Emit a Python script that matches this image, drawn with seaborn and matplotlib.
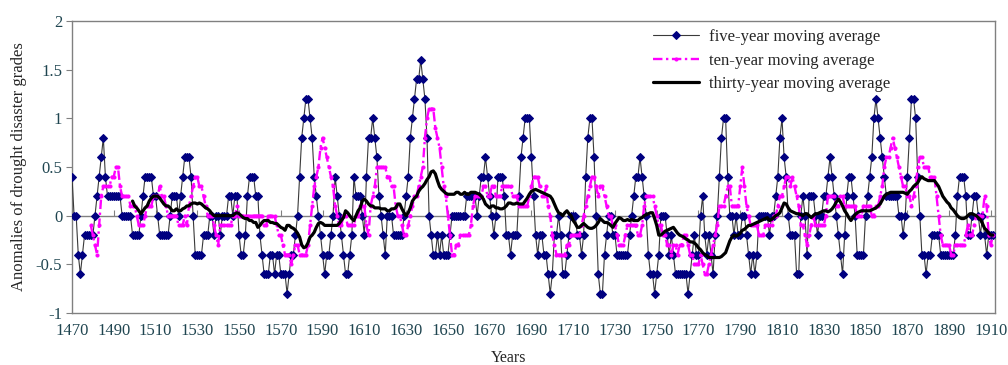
import numpy as np
import pandas as pd
import matplotlib
matplotlib.use('Agg')
import matplotlib.pyplot as plt
import seaborn as sns

# five-year moving average, one value per year from 1470
five_start = 1470
five_year = [
    0.4, 0.0, 0.0, -0.4, -0.6, -0.4, -0.2, -0.2, -0.2, -0.2,   # 1470
    -0.2, 0.0, 0.2, 0.4, 0.6, 0.8, 0.4, 0.2, 0.2, 0.2,         # 1480
    0.2, 0.2, 0.2, 0.2, 0.0, 0.0, 0.0, 0.0, 0.0, -0.2,         # 1490
    -0.2, -0.2, -0.2, 0.0, 0.2, 0.4, 0.4, 0.4, 0.4, 0.2,       # 1500
    0.2, 0.0, -0.2, -0.2, -0.2, -0.2, -0.2, 0.0, 0.2, 0.2,     # 1510
    0.2, 0.0, 0.2, 0.4, 0.6, 0.6, 0.6, 0.4, 0.0, -0.4,         # 1520
    -0.4, -0.4, -0.4, -0.2, -0.2, -0.2, 0.0, 0.0, -0.2, 0.0,   # 1530
    0.0, -0.2, 0.0, 0.0, 0.0, 0.2, 0.2, 0.0, 0.2, 0.2,         # 1540
    -0.2, -0.4, -0.4, -0.2, 0.2, 0.4, 0.4, 0.4, 0.2, 0.2,      # 1550
    -0.2, -0.4, -0.6, -0.6, -0.6, -0.4, -0.4, -0.6, -0.4, -0.4,  # 1560
    -0.6, -0.6, -0.6, -0.8, -0.6, -0.4, -0.4, -0.2, 0.0, 0.4,  # 1570
    0.8, 1.0, 1.2, 1.2, 1.0, 0.8, 0.4, 0.2, 0.0, -0.2,         # 1580
    -0.4, -0.6, -0.4, -0.4, -0.2, 0.0, 0.4, 0.2, 0.0, -0.2,    # 1590
    -0.4, -0.6, -0.6, -0.4, -0.2, 0.4, 0.2, 0.2, 0.2, 0.0,     # 1600
    -0.2, 0.4, 0.8, 0.8, 1.0, 0.8, 0.6, 0.2, 0.0, -0.2,        # 1610
    -0.4, 0.0, 0.0, 0.0, -0.2, -0.2, -0.2, -0.2, -0.2, 0.0,    # 1620
    0.2, 0.4, 0.8, 1.0, 1.2, 1.4, 1.4, 1.6, 1.4, 1.2,          # 1630
    0.8, 0.0, -0.2, -0.4, -0.4, -0.2, -0.4, -0.2, -0.4, -0.4,  # 1640
    -0.4, -0.2, 0.0, 0.0, 0.0, 0.0, 0.0, 0.0, 0.0, 0.2,        # 1650
    0.2, 0.2, 0.2, 0.2, 0.0, 0.2, 0.4, 0.4, 0.6, 0.4,          # 1660
    0.2, 0.0, -0.2, 0.0, 0.4, 0.4, 0.4, 0.2, -0.2, -0.2,       # 1670
    -0.4, -0.2, -0.2, -0.2, 0.2, 0.6, 0.8, 1.0, 1.0, 1.0,      # 1680
    0.6, 0.2, -0.2, -0.4, -0.2, -0.2, -0.4, -0.4, -0.6, -0.8,  # 1690
    -0.6, -0.2, -0.2, 0.0, -0.2, -0.6, -0.6, -0.4, -0.2, 0.0,  # 1700
    0.0, 0.0, -0.2, -0.2, -0.4, -0.2, 0.4, 0.8, 1.0, 1.0,      # 1710
    0.6, 0.0, -0.6, -0.8, -0.8, -0.4, -0.2, 0.0, 0.0, -0.2,    # 1720
    -0.2, -0.4, -0.4, -0.4, -0.4, -0.4, -0.4, -0.2, 0.0, 0.2,  # 1730
    0.4, 0.4, 0.6, 0.4, 0.2, 0.0, -0.4, -0.6, -0.6, -0.8,      # 1740
    -0.6, -0.4, 0.0, 0.0, 0.0, -0.2, -0.4, -0.2, -0.4, -0.6,   # 1750
    -0.6, -0.6, -0.6, -0.6, -0.6, -0.8, -0.6, -0.4, -0.2, -0.4,  # 1760
    -0.4, 0.0, 0.2, -0.2, -0.4, -0.2, -0.4, -0.6, -0.2, 0.0,   # 1770
    0.4, 0.8, 1.0, 1.0, 0.4, 0.0, 0.0, -0.2, 0.0, -0.2,        # 1780
    -0.2, 0.0, 0.0, -0.2, -0.4, -0.6, -0.4, -0.6, -0.4, 0.0,   # 1790
    0.0, 0.0, 0.0, 0.0, -0.2, 0.0, 0.0, 0.2, 0.4, 0.8,         # 1800
    1.0, 0.6, 0.4, 0.0, -0.2, -0.2, -0.2, -0.6, -0.6, 0.0,     # 1810
    0.2, 0.0, -0.4, 0.2, 0.2, 0.2, 0.0, -0.2, 0.0, 0.0,        # 1820
    0.2, 0.2, 0.4, 0.6, 0.4, 0.2, 0.0, -0.2, -0.4, -0.6,       # 1830
    -0.2, 0.2, 0.4, 0.4, 0.2, 0.0, -0.4, -0.4, -0.4, -0.4,     # 1840
    0.0, 0.2, 0.4, 0.6, 1.0, 1.2, 1.0, 0.8, 0.6, 0.4,          # 1850
    0.2, 0.2, 0.2, 0.2, 0.2, 0.2, 0.0, 0.0, -0.2, 0.0,         # 1860
    0.4, 0.8, 1.2, 1.2, 1.0, 0.4, 0.0, -0.4, -0.4, -0.6,       # 1870
    -0.4, -0.4, -0.2, -0.2, -0.2, -0.2, -0.4, -0.4, -0.4, -0.4,  # 1880
    -0.4, -0.4, -0.4, -0.2, 0.2, 0.4, 0.4, 0.4, 0.2, -0.2,     # 1890
    -0.2, 0.0, 0.2, 0.2, 0.0, -0.2, 0.0, -0.2, -0.4, -0.2,     # 1900
    -0.2, -0.2,                                                # 1910
]

# ten-year moving average, from 1479
ten_start = 1479
ten_year = [
    -0.1,                                                      # 1479
    -0.2, -0.3, -0.4, -0.1, 0.2, 0.3, 0.3, 0.3, 0.3, 0.4,      # 1480
    0.4, 0.5, 0.5, 0.3, 0.2, 0.2, 0.2, 0.2, 0.1, 0.1,          # 1490
    0.1, 0.0, -0.1, -0.1, -0.1, 0.0, 0.1, 0.1, 0.1, 0.2,       # 1500
    0.2, 0.2, 0.3, 0.2, 0.2, 0.1, 0.0, 0.0, 0.0, 0.0,          # 1510
    0.0, -0.1, -0.1, -0.1, 0.0, -0.1, 0.1, 0.2, 0.3, 0.4,      # 1520
    0.4, 0.3, 0.3, 0.2, 0.1, 0.0, 0.0, 0.0, -0.1, -0.2,        # 1530
    -0.3, -0.1, -0.1, -0.1, -0.1, -0.1, -0.1, 0.0, 0.0, 0.1,   # 1540
    0.0, 0.0, 0.0, 0.0, 0.0, 0.0, 0.0, 0.0, 0.0, 0.0,          # 1550
    0.0, 0.0, -0.1, -0.1, 0.0, 0.0, 0.0, 0.0, -0.1, -0.2,      # 1560
    -0.2, -0.3, -0.4, -0.4, -0.4, -0.5, -0.4, -0.3, -0.3, -0.4,  # 1570
    -0.4, -0.4, -0.4, -0.3, -0.1, 0.1, 0.3, 0.4, 0.5, 0.7,     # 1580
    0.8, 0.7, 0.6, 0.5, 0.4, 0.3, 0.1, 0.0, -0.1, -0.1,        # 1590
    0.0, 0.0, -0.1, -0.1, -0.1, -0.1, 0.0, 0.0, 0.1, 0.1,      # 1600
    0.1, -0.1, -0.2, 0.1, 0.2, 0.3, 0.5, 0.5, 0.5, 0.5,        # 1610
    0.5, 0.4, 0.4, 0.3, 0.3, 0.1, 0.0, 0.0, -0.1, -0.2,        # 1620
    -0.2, -0.1, 0.0, 0.1, 0.2, 0.2, 0.3, 0.4, 0.5, 0.8,        # 1630
    1.0, 1.1, 1.1, 1.1, 0.9, 0.8, 0.7, 0.5, 0.3, 0.2,          # 1640
    0.0, -0.2, -0.4, -0.4, -0.3, -0.3, -0.2, -0.2, -0.2, -0.2,  # 1650
    -0.2, -0.1, 0.1, 0.2, 0.2, 0.2, 0.2, 0.3, 0.3, 0.2,        # 1660
    0.2, 0.3, 0.3, 0.2, 0.2, 0.2, 0.3, 0.3, 0.3, 0.3,          # 1670
    0.3, 0.2, 0.2, 0.2, 0.1, 0.1, 0.1, 0.1, 0.1, 0.2,          # 1680
    0.3, 0.4, 0.4, 0.4, 0.3, 0.2, 0.2, 0.3, 0.1, 0.0,          # 1690
    -0.2, -0.3, -0.4, -0.4, -0.4, -0.4, -0.4, -0.3, -0.3, -0.2,  # 1700
    -0.2, -0.2, -0.2, -0.2, -0.1, 0.0, 0.1, 0.2, 0.3, 0.4,     # 1710
    0.4, 0.3, 0.2, 0.3, 0.3, 0.2, 0.1, 0.0, 0.0, -0.1,         # 1720
    -0.1, -0.2, -0.3, -0.3, -0.3, -0.2, -0.1, -0.1, -0.1, -0.1,  # 1730
    -0.1, -0.2, -0.2, -0.1, 0.1, 0.2, 0.2, 0.2, 0.2, 0.1,      # 1740
    0.0, -0.1, -0.1, -0.2, -0.2, -0.3, -0.3, -0.4, -0.3, -0.3,  # 1750
    -0.4, -0.3, -0.3, -0.2, -0.2, -0.3, -0.4, -0.4, -0.5, -0.5,  # 1760
    -0.5, -0.4, -0.5, -0.6, -0.6, -0.5, -0.4, -0.3, -0.2, -0.1,  # 1770
    0.1, 0.1, 0.1, 0.2, 0.3, 0.3, 0.1, 0.1, 0.1, 0.1,          # 1780
    0.3, 0.5, 0.3, 0.1, 0.0, -0.1, -0.1, -0.1, -0.1, -0.2,     # 1790
    -0.2, -0.2, -0.1, -0.1, -0.1, -0.1, 0.0, 0.0, 0.1, 0.2,    # 1800
    0.2, 0.3, 0.4, 0.4, 0.3, 0.4, 0.3, 0.2, 0.1, -0.1,         # 1810
    -0.1, -0.2, -0.3, -0.2, -0.1, 0.0, -0.1, -0.1, -0.1, -0.1,  # 1820
    -0.1, 0.0, 0.2, 0.2, 0.2, 0.2, 0.1, 0.1, 0.2, 0.2,         # 1830
    0.1, 0.1, 0.1, 0.1, 0.1, 0.1, 0.0, 0.0, 0.0, 0.1,          # 1840
    0.1, 0.1, 0.1, 0.0, 0.0, 0.1, 0.1, 0.2, 0.3, 0.5,          # 1850
    0.6, 0.6, 0.7, 0.8, 0.7, 0.6, 0.5, 0.4, 0.3, 0.3,          # 1860
    0.2, 0.2, 0.1, 0.2, 0.3, 0.5, 0.6, 0.6, 0.5, 0.5,          # 1870
    0.5, 0.4, 0.4, 0.4, 0.2, 0.0, -0.2, -0.3, -0.3, -0.3,      # 1880
    -0.3, -0.4, -0.4, -0.3, -0.3, -0.3, -0.3, -0.3, -0.2, -0.1,  # 1890
    -0.2, -0.2, -0.1, 0.0, 0.0, 0.0, 0.0, 0.2, 0.1, -0.2,      # 1900
    -0.3, -0.2,                                                # 1910
]

# thirty-year moving average, from 1499
thirty_start = 1499
thirty_year = [
    0.15,                                                                  # 1499
    0.10, 0.08, 0.05, 0.02, 0.05, 0.08, 0.10, 0.15, 0.18, 0.20,            # 1500
    0.20, 0.20, 0.18, 0.15, 0.12, 0.10, 0.10, 0.08, 0.05, 0.05,            # 1510
    0.07, 0.05, 0.05, 0.07, 0.08, 0.10, 0.10, 0.12, 0.13, 0.13,            # 1520
    0.12, 0.13, 0.12, 0.10, 0.08, 0.07, 0.05, 0.02, 0.00, 0.00,            # 1530
    0.00, 0.00, 0.00, 0.00, 0.00, 0.00, 0.00, 0.00, 0.02, 0.03,            # 1540
    0.02, 0.00, -0.02, -0.03, -0.03, -0.05, -0.05, -0.07, -0.07, -0.12,    # 1550
    -0.10, -0.07, -0.05, -0.05, -0.05, -0.07, -0.07, -0.08, -0.08, -0.10,  # 1560
    -0.12, -0.13, -0.15, -0.10, -0.10, -0.12, -0.13, -0.15, -0.18, -0.22,  # 1570
    -0.30, -0.33, -0.32, -0.28, -0.22, -0.20, -0.17, -0.12, -0.08, -0.07,  # 1580
    -0.08, -0.10, -0.10, -0.10, -0.10, -0.10, -0.10, -0.10, -0.08, -0.05,  # 1590
    -0.02, 0.05, 0.03, 0.00, -0.03, -0.05, 0.00, 0.05, 0.08, 0.15,         # 1600
    0.17, 0.15, 0.12, 0.10, 0.10, 0.08, 0.08, 0.08, 0.07, 0.07,            # 1610
    0.07, 0.05, 0.05, 0.07, 0.07, 0.08, 0.12, 0.12, 0.07, 0.03,            # 1620
    0.00, 0.03, 0.08, 0.15, 0.18, 0.20, 0.25, 0.28, 0.30, 0.33,            # 1630
    0.37, 0.40, 0.45, 0.46, 0.43, 0.36, 0.30, 0.27, 0.25, 0.23,            # 1640
    0.22, 0.22, 0.22, 0.22, 0.24, 0.24, 0.22, 0.22, 0.24, 0.22,            # 1650
    0.22, 0.24, 0.24, 0.24, 0.23, 0.22, 0.20, 0.17, 0.12, 0.10,            # 1660
    0.08, 0.10, 0.10, 0.08, 0.08, 0.07, 0.07, 0.08, 0.10, 0.13,            # 1670
    0.13, 0.12, 0.12, 0.13, 0.12, 0.12, 0.12, 0.15, 0.18, 0.22,            # 1680
    0.25, 0.26, 0.27, 0.26, 0.25, 0.24, 0.23, 0.22, 0.21, 0.20,            # 1690
    0.17, 0.12, 0.07, 0.03, 0.02, 0.00, 0.03, 0.05, 0.02, 0.00,            # 1700
    -0.05, -0.08, -0.12, -0.12, -0.10, -0.08, -0.10, -0.12, -0.13, -0.13,  # 1710
    -0.12, -0.10, -0.07, -0.03, -0.05, -0.07, -0.07, -0.08, -0.10, -0.12,  # 1720
    -0.08, -0.05, -0.02, -0.03, -0.05, -0.05, -0.04, -0.05, -0.04, -0.05,  # 1730
    -0.05, -0.05, -0.03, -0.02, 0.00, 0.01, 0.02, 0.03, 0.03, -0.03,       # 1740
    -0.10, -0.20, -0.20, -0.18, -0.16, -0.15, -0.14, -0.13, -0.12, -0.15,  # 1750
    -0.18, -0.20, -0.21, -0.22, -0.24, -0.25, -0.27, -0.27, -0.28, -0.30,  # 1760
    -0.33, -0.35, -0.38, -0.40, -0.41, -0.43, -0.43, -0.43, -0.43, -0.43,  # 1770
    -0.43, -0.42, -0.40, -0.38, -0.32, -0.26, -0.22, -0.20, -0.21, -0.20,  # 1780
    -0.18, -0.15, -0.14, -0.12, -0.10, -0.10, -0.09, -0.08, -0.07, -0.06,  # 1790
    -0.05, -0.04, -0.03, -0.02, -0.05, -0.04, -0.02, 0.00, 0.01, 0.03,     # 1800
    0.08, 0.13, 0.12, 0.08, 0.05, 0.04, 0.03, 0.02, 0.02, 0.01,            # 1810
    0.00, 0.02, 0.02, 0.00, -0.02, 0.00, 0.02, 0.02, 0.03, 0.04,           # 1820
    0.05, 0.05, 0.04, 0.05, 0.07, 0.10, 0.14, 0.17, 0.14, 0.10,            # 1830
    0.05, 0.02, -0.02, -0.05, -0.02, 0.01, 0.03, 0.04, 0.05, 0.05,         # 1840
    0.05, 0.05, 0.05, 0.06, 0.07, 0.08, 0.10, 0.12, 0.16, 0.20,            # 1850
    0.22, 0.23, 0.24, 0.24, 0.24, 0.24, 0.24, 0.24, 0.24, 0.23,            # 1860
    0.22, 0.25, 0.27, 0.30, 0.32, 0.34, 0.38, 0.40, 0.38, 0.37,            # 1870
    0.36, 0.36, 0.36, 0.36, 0.33, 0.30, 0.25, 0.20, 0.17, 0.14,            # 1880
    0.12, 0.08, 0.06, 0.03, 0.00, -0.02, -0.03, -0.03, -0.02, 0.00,        # 1890
    0.02, 0.02, 0.01, 0.00, -0.02, -0.04, -0.08, -0.13, -0.15, -0.18,      # 1900
    -0.20, -0.20,                                                          # 1910
]

series_names = ['five-year moving average', 'ten-year moving average',
                'thirty-year moving average']
x_ticks = list(range(1470, 1911, 20))
y_ticks = [-1, -0.5, 0, 0.5, 1, 1.5, 2]
y_tick_labels = ['-1', '-0.5', '0', '0.5', '1', '1.5', '2']

df5 = pd.DataFrame({'year': five_start + np.arange(len(five_year)), 'value': five_year})
df10 = pd.DataFrame({'year': ten_start + np.arange(len(ten_year)), 'value': ten_year})
df30 = pd.DataFrame({'year': thirty_start + np.arange(len(thirty_year)), 'value': thirty_year})

sns.set_style('white')
plt.rcParams['font.family'] = ['Liberation Serif', 'DejaVu Serif']

fig = plt.figure(figsize=(10.08, 3.65), dpi=100)
ax = fig.add_axes([72 / 1008, 52 / 365, 923 / 1008, 292 / 365])

sns.lineplot(data=df5, x='year', y='value', ax=ax, color='#3a3a3a', lw=0.8,
             marker='D', markersize=4.2, markerfacecolor='#000080',
             markeredgecolor='#000080', estimator=None, sort=False,
             label=series_names[0], zorder=3)
sns.lineplot(data=df10, x='year', y='value', ax=ax, color='#ff00ff', lw=1.7,
             linestyle=(0, (4, 1.5, 1, 1.5)), marker='o', markersize=2.2,
             markerfacecolor='#ff00ff', markeredgecolor='#ff00ff',
             estimator=None, sort=False, label=series_names[1], zorder=4)
sns.lineplot(data=df30, x='year', y='value', ax=ax, color='black', lw=2.3,
             estimator=None, sort=False, label=series_names[2], zorder=5)

ax.set_xlim(1470, 1912)
ax.set_ylim(-1, 2)
ax.set_xticks(x_ticks)
ax.set_xticklabels([str(t) for t in x_ticks])
ax.set_yticks(y_ticks)
ax.set_yticklabels(y_tick_labels)
ax.tick_params(axis='x', length=0, pad=7, labelsize=12, labelcolor='#1f4550')
ax.tick_params(axis='y', length=4, width=0.8, color='#808080', direction='out',
               left=True, pad=3, labelsize=12, labelcolor='#1f4550')

for sp in ax.spines.values():
    sp.set_color('#808080')
    sp.set_linewidth(1.0)

# category axis crossing at zero
zero_axis = ax.secondary_xaxis(1 / 3)
zero_axis.set_xticks(x_ticks)
zero_axis.tick_params(axis='x', direction='in', length=4, width=0.8,
                      color='#808080', labelbottom=False, labeltop=False)
zero_axis.spines['bottom'].set_color('#808080')
zero_axis.spines['bottom'].set_linewidth(1.0)

ax.set_xlabel('Years', fontsize=11.5, labelpad=1)
ax.xaxis.set_label_coords(0.473, -0.125)
ax.set_ylabel('Anomalies of drought disaster grades', fontsize=12, labelpad=6)

ax.legend(loc='upper left', bbox_to_anchor=(0.617, 1.012), frameon=False,
          fontsize=12, handlelength=2.75, handletextpad=0.6, labelspacing=0.45,
          borderaxespad=0.3)

fig.savefig('out.png', dpi=100)
